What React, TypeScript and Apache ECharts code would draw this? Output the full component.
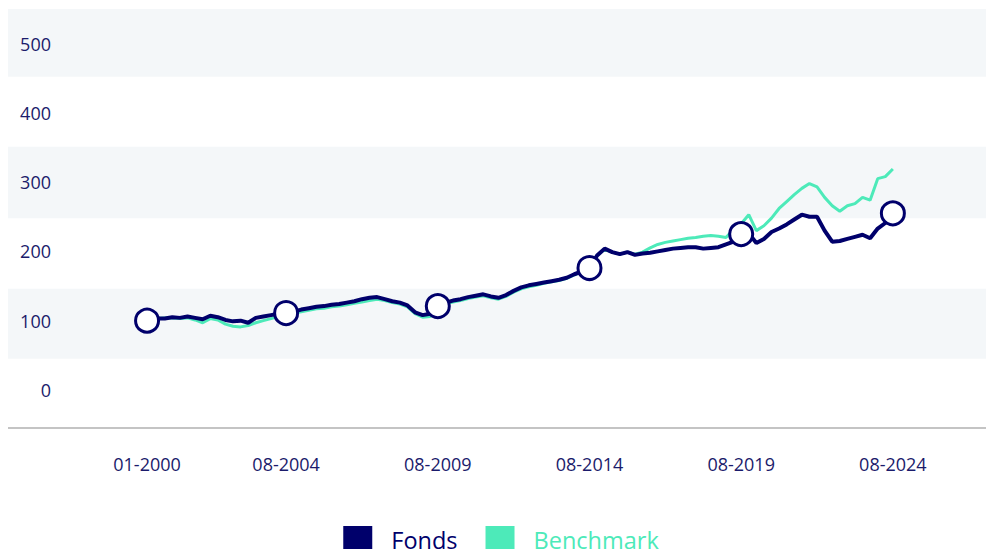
import React, { useEffect, useRef } from "react";
import * as echarts from "echarts";

// months since 01-2000 for each observation
const obsMonths: number[] = [0];
for (let m = 1; m <= 295; m += 3) obsMonths.push(m);

const fondsValues = [
  100, 101, 103, 103, 105, 104, 106, 104, 102, 107, 105, 101, 99, 100, 97, 104, 106, 108, 110, 111,
  113, 116, 118, 120, 121, 123, 124, 126, 128, 131, 133, 134, 131, 128, 126, 122, 112, 108, 110, 121,
  126, 129, 131, 134, 136, 138, 135, 133, 137, 143, 148, 151, 153, 155, 157, 159, 162, 167, 171, 176,
  194, 204, 199, 196, 199, 195, 197, 198, 200, 202, 204, 205, 206, 206, 204, 205, 206, 210, 214, 225,
  226, 212, 218, 228, 233, 239, 246, 253, 250, 250, 230, 214, 215, 218, 221, 224, 219, 233, 241, 255,
];

const benchmarkValues = [
  100, 100, 103, 104, 104, 103, 104, 101, 97, 103, 101, 95, 92, 91, 93, 97, 100, 103, 106, 109,
  111, 113, 115, 117, 118, 120, 121, 123, 125, 127, 129, 131, 129, 126, 124, 120, 110, 105, 106, 118,
  124, 127, 129, 132, 134, 136, 133, 131, 135, 141, 146, 149, 151, 154, 156, 158, 161, 166, 170, 176,
  194, 203, 199, 196, 199, 196, 199, 205, 210, 213, 215, 217, 219, 220, 222, 223, 222, 220, 232, 240,
  253, 230, 237, 248, 262, 272, 282, 291, 298, 293, 278, 266, 258, 266, 269, 278, 274, 305, 308, 319,
];

const xTickMonths = [0, 55, 115, 175, 235, 295];
const xTickLabels = ["01-2000", "08-2004", "08-2009", "08-2014", "08-2019", "08-2024"];
const yTickValues = [0, 100, 200, 300, 400, 500];
const bandRanges: [number, number][] = [
  [45, 146],
  [248, 351],
  [452, 550],
];

const NAVY = "#00006b";
const TEAL = "#4deab9";
const TEXT = "#1b1b6b";
const FONT = "'Open Sans', 'Noto Sans', sans-serif";

export default function App() {
  const ref = useRef<HTMLDivElement>(null);

  useEffect(() => {
    if (!ref.current) return;
    const prevOverflow = document.body.style.overflow;
    document.body.style.overflow = "hidden";
    const chart = echarts.init(ref.current, undefined, { renderer: "svg" });
    const fondsData = obsMonths.map((m, i) => [m, fondsValues[i]]);
    const benchData = obsMonths.map((m, i) => [m, benchmarkValues[i]]);
    const circleData = xTickMonths.map((m) => [m, fondsValues[obsMonths.indexOf(m)]]);

    chart.setOption({
      animation: false,
      textStyle: { fontFamily: FONT },
      grid: { left: 0, right: 0, top: 1, bottom: 140, containLabel: false },
      legend: {
        top: 513,
        left: "center",
        itemWidth: 29,
        itemHeight: 27,
        itemGap: 28,
        icon: "rect",
        textStyle: { fontSize: 23.5, lineHeight: 18, fontFamily: FONT, padding: [0, 0, 0, 14] },
        data: [
          { name: "Fonds", textStyle: { color: NAVY } },
          { name: "Benchmark", textStyle: { color: TEAL } },
        ],
      },
      xAxis: {
        type: "value",
        min: -55,
        max: 335,
        z: 5,
        axisLine: { show: true, onZero: false, lineStyle: { color: "#c4c4c4", width: 2 } },
        axisTick: { show: false },
        splitLine: { show: false },
        axisLabel: {
          customValues: xTickMonths,
          margin: 27,
          fontSize: 18,
          color: TEXT,
          fontFamily: FONT,
          formatter: (v: number) => {
            const i = xTickMonths.indexOf(Math.round(v));
            return i >= 0 ? xTickLabels[i] : "";
          },
        },
      },
      yAxis: {
        type: "value",
        min: -55,
        max: 550,
        z: 5,
        axisLine: { show: false },
        axisTick: { show: false },
        splitLine: { show: false },
        axisLabel: {
          customValues: yTickValues,
          inside: true,
          align: "right",
          margin: 43,
          fontSize: 18,
          color: TEXT,
          fontFamily: FONT,
          formatter: (v: number) => String(Math.round(v)),
        },
      },
      series: [
        {
          name: "bands",
          type: "line",
          data: [],
          silent: true,
          z: 0,
          markArea: {
            silent: true,
            itemStyle: { color: "#f4f7f9" },
            data: bandRanges.map(([a, b]) => [{ yAxis: a }, { yAxis: b }]),
          },
        },
        {
          name: "Benchmark",
          type: "line",
          data: benchData,
          showSymbol: false,
          symbol: "none",
          z: 2,
          itemStyle: { color: TEAL },
          lineStyle: { color: TEAL, width: 3 },
        },
        {
          name: "Fonds",
          type: "line",
          data: fondsData,
          showSymbol: false,
          symbol: "none",
          z: 3,
          itemStyle: { color: NAVY },
          lineStyle: { color: NAVY, width: 4 },
        },
        {
          name: "markers",
          type: "scatter",
          data: circleData,
          symbol: "circle",
          symbolSize: 23,
          z: 6,
          itemStyle: { color: "#ffffff", borderColor: NAVY, borderWidth: 3, opacity: 1 },
        },
      ],
    });
    return () => {
      chart.dispose();
      document.body.style.overflow = prevOverflow;
    };
  }, []);

  return <div ref={ref} style={{ width: 986, height: 560 }} />;
}
